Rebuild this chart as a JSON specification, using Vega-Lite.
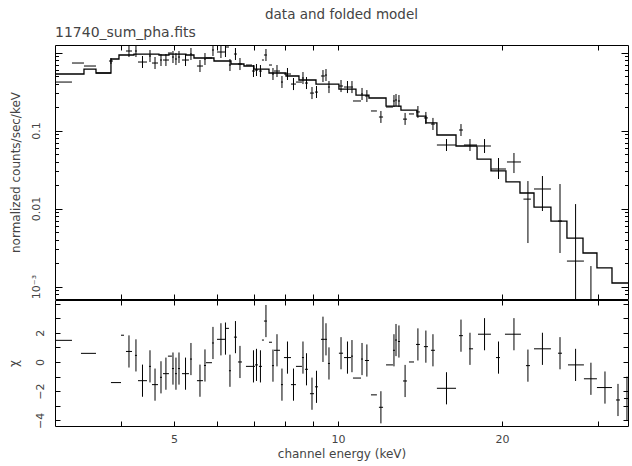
{
"$schema": "https://vega.github.io/schema/vega-lite/v6.json",
"autosize": {"type": "pad"},
"padding": {"left": 6, "top": 7, "right": 2, "bottom": 5},
"background": "white",
"spacing": -2,
"title": {"text": "data and folded model", "anchor": "middle", "frame": "group", "fontSize": 13.5, "fontWeight": "normal", "color": "#444", "font": "DejaVu Sans", "offset": 4},
"config": {
  "view": {"stroke": "#000", "strokeWidth": 1},
  "axis": {"domain": false, "grid": false, "tickColor": "#000", "tickWidth": 1, "labelColor": "#444", "titleColor": "#444", "labelFont": "DejaVu Sans", "titleFont": "DejaVu Sans", "labelFontSize": 11, "titleFontSize": 12, "titleFontWeight": "normal"},
  "title": {"font": "DejaVu Sans", "color": "#444", "fontWeight": "normal"}
},
"datasets": {
"spec": [
{"lo":3.024,"hi":3.249,"ec":3.135,"y":0.418,"ylo":0.418,"yhi":0.418},
{"lo":3.249,"hi":3.418,"ec":3.333,"y":0.733,"ylo":0.733,"yhi":0.733},
{"lo":3.418,"hi":3.596,"ec":3.506,"y":0.671,"ylo":0.671,"yhi":0.671},
{"lo":3.596,"hi":3.831,"ec":3.712,"y":0.546,"ylo":0.546,"yhi":0.546},
{"lo":3.799,"hi":3.864,"ec":3.831,"y":0.778,"ylo":0.712,"yhi":0.850},
{"lo":3.963,"hi":4.048,"ec":4.006,"y":1.229,"ylo":1.229,"yhi":1.229},
{"lo":4.082,"hi":4.187,"ec":4.134,"y":1.045,"ylo":0.875,"yhi":1.248},
{"lo":4.240,"hi":4.276,"ec":4.258,"y":1.045,"ylo":0.875,"yhi":1.248},
{"lo":4.295,"hi":4.461,"ec":4.377,"y":0.755,"ylo":0.633,"yhi":0.902},
{"lo":4.499,"hi":4.537,"ec":4.518,"y":0.902,"ylo":0.755,"yhi":1.076},
{"lo":4.556,"hi":4.674,"ec":4.615,"y":0.733,"ylo":0.614,"yhi":0.875},
{"lo":4.713,"hi":4.753,"ec":4.733,"y":0.801,"ylo":0.671,"yhi":0.956},
{"lo":4.773,"hi":4.895,"ec":4.833,"y":0.801,"ylo":0.671,"yhi":0.956},
{"lo":4.874,"hi":4.957,"ec":4.906,"y":0.985,"ylo":0.985,"yhi":0.985},
{"lo":4.958,"hi":5.0,"ec":4.979,"y":0.875,"ylo":0.733,"yhi":1.045},
{"lo":5.021,"hi":5.064,"ec":5.042,"y":0.825,"ylo":0.691,"yhi":0.985},
{"lo":5.085,"hi":5.129,"ec":5.107,"y":0.875,"ylo":0.733,"yhi":1.045},
{"lo":5.172,"hi":5.327,"ec":5.250,"y":0.801,"ylo":0.671,"yhi":0.956},
{"lo":5.350,"hi":5.395,"ec":5.372,"y":0.956,"ylo":0.801,"yhi":1.142},
{"lo":5.510,"hi":5.652,"ec":5.581,"y":0.671,"ylo":0.562,"yhi":0.801},
{"lo":5.676,"hi":5.724,"ec":5.700,"y":0.825,"ylo":0.691,"yhi":0.985},
{"lo":5.724,"hi":5.871,"ec":5.797,"y":0.850,"ylo":0.850,"yhi":0.850},
{"lo":5.871,"hi":5.921,"ec":5.896,"y":1.076,"ylo":0.902,"yhi":1.248},
{"lo":5.997,"hi":6.203,"ec":6.098,"y":1.015,"ylo":0.850,"yhi":1.211},
{"lo":6.203,"hi":6.229,"ec":6.216,"y":1.045,"ylo":0.875,"yhi":1.248},
{"lo":6.229,"hi":6.308,"ec":6.268,"y":1.176,"ylo":1.176,"yhi":1.176},
{"lo":6.308,"hi":6.362,"ec":6.335,"y":0.691,"ylo":0.579,"yhi":0.825},
{"lo":6.443,"hi":6.525,"ec":6.484,"y":0.956,"ylo":0.801,"yhi":1.142},
{"lo":6.553,"hi":6.665,"ec":6.609,"y":0.712,"ylo":0.596,"yhi":0.850},
{"lo":6.778,"hi":6.953,"ec":6.865,"y":0.691,"ylo":0.691,"yhi":0.691},
{"lo":6.953,"hi":7.042,"ec":6.997,"y":0.579,"ylo":0.485,"yhi":0.691},
{"lo":7.042,"hi":7.131,"ec":7.086,"y":0.596,"ylo":0.500,"yhi":0.712},
{"lo":7.161,"hi":7.252,"ec":7.206,"y":0.579,"ylo":0.485,"yhi":0.691},
{"lo":7.252,"hi":7.314,"ec":7.283,"y":0.801,"ylo":0.801,"yhi":0.801},
{"lo":7.314,"hi":7.408,"ec":7.376,"y":0.929,"ylo":0.778,"yhi":1.109},
{"lo":7.471,"hi":7.566,"ec":7.519,"y":0.691,"ylo":0.691,"yhi":0.691},
{"lo":7.566,"hi":7.630,"ec":7.598,"y":0.530,"ylo":0.444,"yhi":0.633},
{"lo":7.630,"hi":7.826,"ec":7.728,"y":0.579,"ylo":0.485,"yhi":0.691},
{"lo":7.859,"hi":7.925,"ec":7.892,"y":0.418,"ylo":0.351,"yhi":0.500},
{"lo":7.959,"hi":8.199,"ec":8.078,"y":0.530,"ylo":0.444,"yhi":0.633},
{"lo":8.199,"hi":8.373,"ec":8.286,"y":0.394,"ylo":0.330,"yhi":0.471},
{"lo":8.373,"hi":8.588,"ec":8.480,"y":0.418,"ylo":0.418,"yhi":0.418},
{"lo":8.588,"hi":8.662,"ec":8.625,"y":0.471,"ylo":0.394,"yhi":0.562},
{"lo":8.699,"hi":8.810,"ec":8.754,"y":0.406,"ylo":0.340,"yhi":0.485},
{"lo":8.884,"hi":9.036,"ec":8.960,"y":0.302,"ylo":0.253,"yhi":0.361},
{"lo":9.074,"hi":9.190,"ec":9.132,"y":0.311,"ylo":0.261,"yhi":0.372},
{"lo":9.307,"hi":9.466,"ec":9.386,"y":0.500,"ylo":0.418,"yhi":0.596},
{"lo":9.466,"hi":9.546,"ec":9.506,"y":0.514,"ylo":0.431,"yhi":0.614},
{"lo":9.586,"hi":9.668,"ec":9.627,"y":0.361,"ylo":0.302,"yhi":0.431},
{"lo":10.04,"hi":10.217,"ec":10.13,"y":0.372,"ylo":0.311,"yhi":0.444},
{"lo":10.26,"hi":10.569,"ec":10.41,"y":0.361,"ylo":0.302,"yhi":0.431},
{"lo":10.569,"hi":10.655,"ec":10.61,"y":0.361,"ylo":0.302,"yhi":0.431},
{"lo":10.655,"hi":11.023,"ec":10.84,"y":0.239,"ylo":0.239,"yhi":0.239},
{"lo":11.023,"hi":11.113,"ec":11.07,"y":0.294,"ylo":0.246,"yhi":0.351},
{"lo":11.207,"hi":11.40,"ec":11.30,"y":0.277,"ylo":0.232,"yhi":0.330},
{"lo":11.497,"hi":11.789,"ec":11.64,"y":0.178,"ylo":0.178,"yhi":0.178},
{"lo":11.89,"hi":12.099,"ec":11.99,"y":0.149,"ylo":0.125,"yhi":0.178},
{"lo":12.253,"hi":12.617,"ec":12.44,"y":0.200,"ylo":0.200,"yhi":0.200},
{"lo":12.617,"hi":12.724,"ec":12.67,"y":0.239,"ylo":0.200,"yhi":0.285},
{"lo":12.724,"hi":12.832,"ec":12.78,"y":0.246,"ylo":0.206,"yhi":0.294},
{"lo":12.885,"hi":12.995,"ec":12.94,"y":0.239,"ylo":0.200,"yhi":0.285},
{"lo":13.164,"hi":13.389,"ec":13.28,"y":0.140,"ylo":0.118,"yhi":0.168},
{"lo":13.50,"hi":13.79,"ec":13.64,"y":0.163,"ylo":0.163,"yhi":0.163},
{"lo":13.907,"hi":14.140,"ec":14.02,"y":0.173,"ylo":0.145,"yhi":0.206},
{"lo":14.38,"hi":14.628,"ec":14.50,"y":0.145,"ylo":0.121,"yhi":0.173},
{"lo":14.815,"hi":15.064,"ec":14.94,"y":0.121,"ylo":0.1015,"yhi":0.145},
{"lo":15.191,"hi":16.47,"ec":15.82,"y":0.0652,"ylo":0.0546,"yhi":0.0778},
{"lo":16.68,"hi":16.958,"ec":16.82,"y":0.1015,"ylo":0.0850,"yhi":0.121},
{"lo":17.03,"hi":18.00,"ec":17.47,"y":0.0652,"ylo":0.0546,"yhi":0.0778},
{"lo":18.073,"hi":19.09,"ec":18.58,"y":0.0633,"ylo":0.0515,"yhi":0.0778},
{"lo":19.09,"hi":20.34,"ec":19.71,"y":0.0321,"ylo":0.0239,"yhi":0.0444},
{"lo":20.426,"hi":21.67,"ec":21.04,"y":0.0395,"ylo":0.0285,"yhi":0.0515},
{"lo":21.9,"hi":22.6,"ec":22.32,"y":0.0132,"ylo":0.00361,"yhi":0.0225},
{"lo":22.90,"hi":24.60,"ec":23.73,"y":0.0178,"ylo":0.00929,"yhi":0.0261},
{"lo":25.343,"hi":25.775,"ec":25.56,"y":0.00691,"ylo":0.00269,"yhi":0.0206},
{"lo":26.32,"hi":28.28,"ec":27.30,"y":0.00212,"ylo":0.0001,"yhi":0.0114},
{"lo":28.884,"hi":29.377,"ec":29.13,"y":0.0003,"ylo":0.0001,"yhi":0.00183}
],
"model": [
{"e":3.024,"m":0.530},{"e":3.418,"m":0.614},{"e":3.596,"m":0.546},{"e":3.831,"m":0.825},{"e":3.963,"m":0.929},{"e":4.222,"m":0.956},{"e":4.693,"m":0.929},{"e":4.895,"m":0.956},{"e":5.260,"m":0.929},{"e":5.441,"m":0.850},{"e":5.921,"m":0.778},{"e":6.362,"m":0.712},{"e":6.721,"m":0.671},{"e":7.012,"m":0.614},{"e":7.471,"m":0.546},{"e":8.027,"m":0.500},{"e":8.480,"m":0.444},{"e":9.113,"m":0.394},{"e":10.04,"m":0.340},{"e":10.791,"m":0.285},{"e":11.40,"m":0.261},{"e":12.253,"m":0.206},{"e":13.050,"m":0.183},{"e":13.966,"m":0.153},{"e":14.502,"m":0.125},{"e":15.191,"m":0.0876},{"e":16.47,"m":0.0633},{"e":18.00,"m":0.0431},{"e":19.09,"m":0.0303},{"e":20.34,"m":0.0219},{"e":21.581,"m":0.0158},{"e":22.90,"m":0.01045},{"e":24.60,"m":0.00691},{"e":26.32,"m":0.00418},{"e":28.17,"m":0.00269},{"e":29.88,"m":0.00173},{"e":31.84,"m":0.00111},{"e":34.07,"m":0.00111}
],
"resid": [
{"lo":3.024,"hi":3.249,"ec":3.135,"r":1.48,"rlo":1.48,"rhi":1.48},
{"lo":3.375,"hi":3.596,"ec":3.484,"r":0.59,"rlo":0.59,"rhi":0.59},
{"lo":3.831,"hi":3.997,"ec":3.913,"r":-1.41,"rlo":-1.41,"rhi":-1.41},
{"lo":3.997,"hi":4.048,"ec":4.022,"r":1.83,"rlo":1.83,"rhi":1.83},
{"lo":4.082,"hi":4.187,"ec":4.134,"r":0.72,"rlo":-0.38,"rhi":1.82},
{"lo":4.240,"hi":4.276,"ec":4.258,"r":0.45,"rlo":-0.65,"rhi":1.55},
{"lo":4.295,"hi":4.461,"ec":4.377,"r":-1.28,"rlo":-2.38,"rhi":-0.18},
{"lo":4.499,"hi":4.537,"ec":4.518,"r":-0.3,"rlo":-1.4,"rhi":0.8},
{"lo":4.556,"hi":4.674,"ec":4.615,"r":-1.55,"rlo":-2.65,"rhi":-0.45},
{"lo":4.713,"hi":4.753,"ec":4.733,"r":-1.05,"rlo":-2.15,"rhi":0.05},
{"lo":4.773,"hi":4.895,"ec":4.833,"r":-0.8,"rlo":-1.9,"rhi":0.3},
{"lo":4.874,"hi":4.957,"ec":4.906,"r":0.4,"rlo":0.4,"rhi":0.4},
{"lo":4.958,"hi":5.0,"ec":4.979,"r":-0.45,"rlo":-1.55,"rhi":0.65},
{"lo":5.021,"hi":5.064,"ec":5.042,"r":-0.8,"rlo":-1.9,"rhi":0.3},
{"lo":5.085,"hi":5.129,"ec":5.107,"r":-0.45,"rlo":-1.55,"rhi":0.65},
{"lo":5.172,"hi":5.327,"ec":5.250,"r":-0.8,"rlo":-1.9,"rhi":0.3},
{"lo":5.350,"hi":5.395,"ec":5.372,"r":0.2,"rlo":-0.9,"rhi":1.3},
{"lo":5.510,"hi":5.652,"ec":5.581,"r":-1.28,"rlo":-2.38,"rhi":-0.18},
{"lo":5.676,"hi":5.724,"ec":5.700,"r":-0.24,"rlo":-1.34,"rhi":0.86},
{"lo":5.724,"hi":5.871,"ec":5.797,"r":-0.05,"rlo":-0.05,"rhi":-0.05},
{"lo":5.871,"hi":5.921,"ec":5.896,"r":1.3,"rlo":0.2,"rhi":2.4},
{"lo":5.997,"hi":6.203,"ec":6.098,"r":1.55,"rlo":0.45,"rhi":2.65},
{"lo":6.203,"hi":6.229,"ec":6.216,"r":1.6,"rlo":0.5,"rhi":2.7},
{"lo":6.229,"hi":6.308,"ec":6.268,"r":2.3,"rlo":2.3,"rhi":2.3},
{"lo":6.308,"hi":6.362,"ec":6.335,"r":-0.6,"rlo":-1.7,"rhi":0.5},
{"lo":6.443,"hi":6.525,"ec":6.484,"r":1.7,"rlo":0.6,"rhi":2.8},
{"lo":6.553,"hi":6.665,"ec":6.609,"r":0.0,"rlo":-1.1,"rhi":1.1},
{"lo":6.778,"hi":6.953,"ec":6.865,"r":-0.3,"rlo":-0.3,"rhi":-0.3},
{"lo":6.953,"hi":7.042,"ec":6.997,"r":-0.3,"rlo":-1.4,"rhi":0.8},
{"lo":7.042,"hi":7.131,"ec":7.086,"r":-0.2,"rlo":-1.3,"rhi":0.9},
{"lo":7.161,"hi":7.252,"ec":7.206,"r":-0.3,"rlo":-1.4,"rhi":0.8},
{"lo":7.252,"hi":7.314,"ec":7.283,"r":1.5,"rlo":1.5,"rhi":1.5},
{"lo":7.314,"hi":7.408,"ec":7.376,"r":2.8,"rlo":1.7,"rhi":3.9},
{"lo":7.471,"hi":7.566,"ec":7.519,"r":1.35,"rlo":1.35,"rhi":1.35},
{"lo":7.566,"hi":7.630,"ec":7.598,"r":-0.25,"rlo":-1.35,"rhi":0.85},
{"lo":7.630,"hi":7.826,"ec":7.728,"r":0.8,"rlo":-0.3,"rhi":1.9},
{"lo":7.859,"hi":7.925,"ec":7.892,"r":-1.55,"rlo":-2.65,"rhi":-0.45},
{"lo":7.959,"hi":8.199,"ec":8.078,"r":0.3,"rlo":-0.8,"rhi":1.4},
{"lo":8.199,"hi":8.373,"ec":8.286,"r":-1.55,"rlo":-2.65,"rhi":-0.45},
{"lo":8.373,"hi":8.588,"ec":8.480,"r":-0.3,"rlo":-0.3,"rhi":-0.3},
{"lo":8.588,"hi":8.662,"ec":8.625,"r":0.3,"rlo":-0.8,"rhi":1.4},
{"lo":8.699,"hi":8.810,"ec":8.754,"r":-0.5,"rlo":-1.6,"rhi":0.6},
{"lo":8.884,"hi":9.036,"ec":8.960,"r":-2.17,"rlo":-3.27,"rhi":-1.07},
{"lo":9.074,"hi":9.190,"ec":9.132,"r":-1.7,"rlo":-2.8,"rhi":-0.6},
{"lo":9.307,"hi":9.466,"ec":9.386,"r":1.55,"rlo":0.0,"rhi":3.1},
{"lo":9.466,"hi":9.546,"ec":9.506,"r":1.55,"rlo":0.45,"rhi":2.65},
{"lo":9.586,"hi":9.668,"ec":9.627,"r":-0.1,"rlo":-1.2,"rhi":1.0},
{"lo":10.04,"hi":10.217,"ec":10.13,"r":0.6,"rlo":-0.5,"rhi":1.7},
{"lo":10.26,"hi":10.569,"ec":10.41,"r":0.3,"rlo":-0.8,"rhi":1.4},
{"lo":10.569,"hi":10.655,"ec":10.61,"r":0.4,"rlo":-0.7,"rhi":1.5},
{"lo":10.655,"hi":11.023,"ec":10.84,"r":-1.1,"rlo":-1.1,"rhi":-1.1},
{"lo":11.023,"hi":11.113,"ec":11.07,"r":0.2,"rlo":-0.9,"rhi":1.3},
{"lo":11.207,"hi":11.40,"ec":11.30,"r":0.1,"rlo":-1.0,"rhi":1.2},
{"lo":11.497,"hi":11.789,"ec":11.64,"r":-2.25,"rlo":-2.25,"rhi":-2.25},
{"lo":11.89,"hi":12.099,"ec":11.99,"r":-3.1,"rlo":-4.2,"rhi":-2.0},
{"lo":12.253,"hi":12.617,"ec":12.44,"r":-0.2,"rlo":-0.2,"rhi":-0.2},
{"lo":12.617,"hi":12.724,"ec":12.67,"r":0.8,"rlo":-0.3,"rhi":1.9},
{"lo":12.724,"hi":12.832,"ec":12.78,"r":1.5,"rlo":0.4,"rhi":2.6},
{"lo":12.885,"hi":12.995,"ec":12.94,"r":1.4,"rlo":0.3,"rhi":2.5},
{"lo":13.164,"hi":13.389,"ec":13.28,"r":-1.3,"rlo":-2.4,"rhi":-0.2},
{"lo":13.50,"hi":13.79,"ec":13.64,"r":0.0,"rlo":0.0,"rhi":0.0},
{"lo":13.907,"hi":14.140,"ec":14.02,"r":1.2,"rlo":0.1,"rhi":2.3},
{"lo":14.38,"hi":14.628,"ec":14.50,"r":1.05,"rlo":-0.05,"rhi":2.15},
{"lo":14.815,"hi":15.064,"ec":14.94,"r":0.8,"rlo":-0.3,"rhi":1.9},
{"lo":15.191,"hi":16.47,"ec":15.82,"r":-1.8,"rlo":-2.9,"rhi":-0.7},
{"lo":16.68,"hi":16.958,"ec":16.82,"r":1.8,"rlo":0.7,"rhi":2.9},
{"lo":17.40,"hi":17.70,"ec":17.47,"r":0.9,"rlo":-0.2,"rhi":2.0},
{"lo":18.073,"hi":19.09,"ec":18.58,"r":1.9,"rlo":0.8,"rhi":3.0},
{"lo":19.501,"hi":19.834,"ec":19.71,"r":0.3,"rlo":-0.8,"rhi":1.4},
{"lo":20.254,"hi":21.67,"ec":21.04,"r":1.9,"rlo":0.8,"rhi":3.0},
{"lo":22.136,"hi":22.515,"ec":22.32,"r":-0.25,"rlo":-1.35,"rhi":0.85},
{"lo":22.90,"hi":24.60,"ec":23.73,"r":0.9,"rlo":-0.2,"rhi":2.0},
{"lo":25.343,"hi":25.775,"ec":25.56,"r":0.6,"rlo":-0.5,"rhi":1.7},
{"lo":26.438,"hi":28.28,"ec":27.30,"r":-0.2,"rlo":-1.3,"rhi":0.9},
{"lo":28.28,"hi":29.88,"ec":29.13,"r":-1.15,"rlo":-2.25,"rhi":-0.05},
{"lo":29.88,"hi":31.84,"ec":30.91,"r":-1.75,"rlo":-2.85,"rhi":-0.65},
{"lo":32.385,"hi":32.937,"ec":32.66,"r":-2.6,"rlo":-3.7,"rhi":-1.5},
{"lo":33.493,"hi":34.07,"ec":33.92,"r":-2.5,"rlo":-4.0,"rhi":-1.0}
]
},
"vconcat": [
{
  "width": 573, "height": 254,
  "title": {"text": "11740_sum_pha.fits", "anchor": "start", "frame": "group", "fontSize": 14, "offset": 5},
  "resolve": {"axis": {"x": "independent", "y": "independent"}},
  "layer": [
    {"data": {"name": "spec"}, "mark": {"type": "rule", "color": "#000", "strokeWidth": 1, "clip": true},
     "encoding": {
       "x": {"field": "ec", "type": "quantitative", "scale": {"type": "log", "domain": [3.024, 34.07], "nice": false},
             "axis": {"orient": "bottom", "values": [4,5,6,7,8,9,10,20,30], "labels": false, "tickSize": -5, "title": null}},
       "y": {"field": "ylo", "type": "quantitative", "scale": {"type": "log", "domain": [0.000692, 1.248], "nice": false},
             "axis": {"orient": "left", "values": [0.001, 0.01, 0.1, 1], "tickSize": -7, "labelAngle": -90, "labelAlign": "center", "labelBaseline": "bottom", "labelPadding": 21,
                      "labelExpr": "datum.value < 0.005 ? '10⁻³' : datum.value < 0.05 ? '0.01' : datum.value < 0.5 ? '0.1' : ''",
                      "title": "normalized counts/sec/keV", "titlePadding": 8}},
       "y2": {"field": "yhi"}
     }},
    {"data": {"name": "spec"}, "mark": {"type": "rule", "color": "#000", "strokeWidth": 1, "clip": true},
     "encoding": {
       "x": {"field": "lo", "type": "quantitative", "scale": {"type": "log", "domain": [3.024, 34.07], "nice": false},
             "axis": {"orient": "top", "values": [4,5,6,7,8,9,10,20,30], "labels": false, "tickSize": -5, "title": null}},
       "x2": {"field": "hi"},
       "y": {"field": "y", "type": "quantitative", "scale": {"type": "log", "domain": [0.000692, 1.248], "nice": false},
             "axis": {"orient": "right", "values": [0.001, 0.01, 0.1, 1], "tickSize": -7, "labels": false, "title": null}}
     }},
    {"data": {"name": "model"}, "mark": {"type": "line", "color": "#000", "strokeWidth": 1.3, "interpolate": "step-after", "clip": true},
     "encoding": {
       "x": {"field": "e", "type": "quantitative", "scale": {"type": "log", "domain": [3.024, 34.07], "nice": false}, "axis": null},
       "y": {"field": "m", "type": "quantitative", "scale": {"type": "log", "domain": [0.000692, 1.248], "nice": false},
             "axis": {"orient": "left", "values": [0.0008,0.0009,0.002,0.003,0.004,0.005,0.006,0.007,0.008,0.009,0.02,0.03,0.04,0.05,0.06,0.07,0.08,0.09,0.2,0.3,0.4,0.5,0.6,0.7,0.8,0.9], "tickSize": -3.5, "labels": false, "title": null}}
     }},
    {"data": {"name": "model"}, "mark": {"type": "point", "opacity": 0},
     "encoding": {
       "x": {"field": "e", "type": "quantitative", "scale": {"type": "log", "domain": [3.024, 34.07], "nice": false}, "axis": null},
       "y": {"field": "m", "type": "quantitative", "scale": {"type": "log", "domain": [0.000692, 1.248], "nice": false},
             "axis": {"orient": "right", "values": [0.0008,0.0009,0.002,0.003,0.004,0.005,0.006,0.007,0.008,0.009,0.02,0.03,0.04,0.05,0.06,0.07,0.08,0.09,0.2,0.3,0.4,0.5,0.6,0.7,0.8,0.9], "tickSize": -3.5, "labels": false, "title": null}}
     }}
  ]
},
{
  "width": 573, "height": 126,
  "resolve": {"axis": {"x": "independent", "y": "independent"}},
  "layer": [
    {"data": {"name": "resid"}, "mark": {"type": "rule", "color": "#000", "strokeWidth": 1, "clip": true},
     "encoding": {
       "x": {"field": "ec", "type": "quantitative", "scale": {"type": "log", "domain": [3.024, 34.07], "nice": false},
             "axis": {"orient": "bottom", "values": [4,5,6,7,8,9,10,20,30], "tickSize": -5, "labelPadding": 12,
                      "labelExpr": "datum.value == 5 || datum.value == 10 || datum.value == 20 ? '' + datum.value : ''",
                      "title": "channel energy (keV)", "titlePadding": 4}},
       "y": {"field": "rlo", "type": "quantitative", "scale": {"domain": [-4.38, 4.24], "nice": false, "zero": false},
             "axis": {"orient": "left", "values": [-4,-3,-2,-1,0,1,2,3,4], "tickSize": -5, "labelAngle": -90, "labelAlign": "center", "labelBaseline": "bottom", "labelPadding": 15,
                      "labelExpr": "datum.value % 2 == 0 && datum.value < 3 ? replace('' + datum.value, '-', '−') : ''",
                      "title": "χ", "titlePadding": 14}},
       "y2": {"field": "rhi"}
     }},
    {"data": {"name": "resid"}, "mark": {"type": "rule", "color": "#000", "strokeWidth": 1, "clip": true},
     "encoding": {
       "x": {"field": "lo", "type": "quantitative", "scale": {"type": "log", "domain": [3.024, 34.07], "nice": false},
             "axis": {"orient": "top", "values": [4,5,6,7,8,9,10,20,30], "tickSize": -5, "labels": false, "title": null}},
       "x2": {"field": "hi"},
       "y": {"field": "r", "type": "quantitative", "scale": {"domain": [-4.38, 4.24], "nice": false, "zero": false},
             "axis": {"orient": "right", "values": [-4,-3,-2,-1,0,1,2,3,4], "tickSize": -5, "labels": false, "title": null}}
     }}
  ]
}
]
}
